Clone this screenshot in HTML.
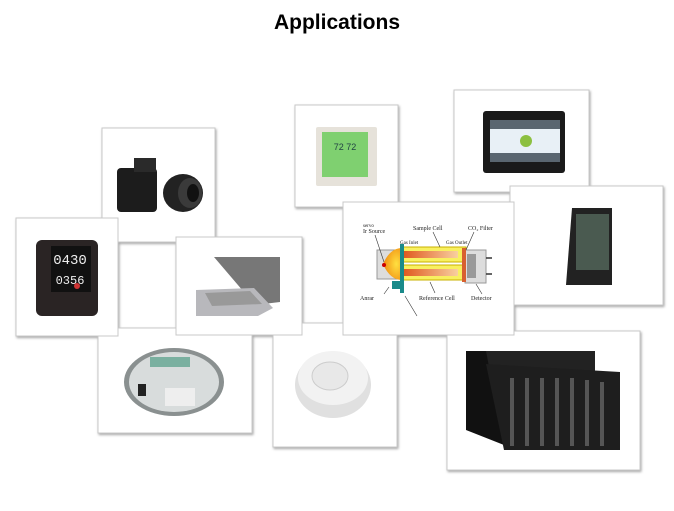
<!DOCTYPE html>
<html><head><style>
html,body{margin:0;padding:0;background:#fff;}
body{width:674px;height:506px;overflow:hidden;font-family:"Liberation Sans",sans-serif;}
</style></head><body>
<svg width="674" height="506" viewBox="0 0 674 506" xmlns="http://www.w3.org/2000/svg">
<defs>
<filter id="sh" x="-10%" y="-10%" width="125%" height="125%"><feDropShadow dx="1" dy="1.5" stdDeviation="1.2" flood-color="#000" flood-opacity="0.35"/></filter>
<radialGradient id="flame" cx="0.7" cy="0.5" r="0.7"><stop offset="0" stop-color="#ffe040"/><stop offset="1" stop-color="#f08a10"/></radialGradient>
<linearGradient id="tube" x1="0" x2="1"><stop offset="0" stop-color="#e05a20"/><stop offset="1" stop-color="#f8d0a0"/></linearGradient>
</defs>
<text x="337" y="29" text-anchor="middle" font-size="21" font-weight="bold" fill="#000">Applications</text>
<g filter="url(#sh)" fill="#fff" stroke="#c8c8c8" stroke-width="1">
<rect x="98" y="328" width="154" height="105"/>
<rect x="102" y="128" width="113" height="114"/>
<rect x="16" y="218" width="102" height="118"/>
<rect x="273" y="323" width="124" height="124"/>
<rect x="176" y="237" width="126" height="98"/>
<rect x="295" y="105" width="103" height="102"/>
<rect x="454" y="90" width="135" height="102"/>
<rect x="510" y="186" width="153" height="119"/>
<rect x="447" y="331" width="193" height="139"/>
<rect x="343" y="202" width="171" height="133"/>
</g>
<!-- meter -->
<ellipse cx="174" cy="382" rx="50" ry="34" fill="#8a9090"/>
<ellipse cx="174" cy="382" rx="45" ry="30" fill="#d8dcdc"/>
<rect x="150" y="357" width="40" height="10" fill="#7ab0a0"/>
<rect x="138" y="384" width="8" height="12" fill="#222"/>
<rect x="165" y="388" width="30" height="18" fill="#eee"/>
<!-- camera -->
<rect x="117" y="168" width="40" height="44" rx="4" fill="#1c1c1c"/>
<rect x="134" y="158" width="22" height="14" fill="#2a2a2a"/>
<ellipse cx="183" cy="193" rx="20" ry="19" fill="#222"/>
<ellipse cx="190" cy="193" rx="12" ry="15" fill="#3a3a3a"/>
<ellipse cx="193" cy="193" rx="6" ry="9" fill="#111"/>
<!-- watch -->
<rect x="36" y="240" width="62" height="76" rx="6" fill="#2a2424"/>
<rect x="51" y="246" width="40" height="46" fill="#111"/>
<text x="70" y="264" text-anchor="middle" font-size="14" fill="#eee" font-family="Liberation Mono">0430</text>
<text x="70" y="284" text-anchor="middle" font-size="12" fill="#eee" font-family="Liberation Mono">0356</text>
<circle cx="77" cy="286" r="3" fill="#c33"/>
<!-- laptop -->
<polygon points="214,257 280,257 280,302 255,305" fill="#777"/>
<polygon points="196,290 254,288 273,308 258,316 196,316" fill="#b8b8bc"/>
<polygon points="205,293 250,291 262,304 212,306" fill="#999"/>
<!-- smoke detector -->
<ellipse cx="333" cy="385" rx="38" ry="33" fill="#e0e0e0"/>
<ellipse cx="333" cy="378" rx="35" ry="27" fill="#f2f2f2"/>
<ellipse cx="330" cy="376" rx="18" ry="14" fill="#e8e8e8" stroke="#ccc"/>
<!-- thermostat -->
<rect x="316" y="127" width="61" height="59" rx="2" fill="#e6e2da"/>
<rect x="322" y="132" width="46" height="45" fill="#7fd070"/>
<text x="345" y="150" text-anchor="middle" font-size="9" fill="#244">72 72</text>
<!-- tablet -->
<rect x="483" y="111" width="82" height="62" rx="3" fill="#1a1a1a"/>
<rect x="490" y="120" width="70" height="42" fill="#5a6670"/>
<rect x="490" y="129" width="70" height="24" fill="#e8f0f6"/>
<circle cx="526" cy="141" r="6" fill="#8cc040"/>
<!-- phone -->
<polygon points="572,208 612,208 612,285 566,285" fill="#222"/>
<rect x="576" y="214" width="33" height="56" fill="#4a5a50"/>
<!-- diagram -->
<rect x="377" y="250" width="21" height="29" fill="#ddd" stroke="#999"/>
<path d="M383,264 Q390,248 402,248 L402,280 Q390,280 383,264Z" fill="url(#flame)"/>
<circle cx="384" cy="265" r="2" fill="#c00"/>
<rect x="402" y="247" width="64" height="15" fill="#f8f060" stroke="#c8b000"/>
<rect x="404" y="251" width="54" height="7" fill="url(#tube)"/>
<rect x="402" y="265" width="64" height="15" fill="#f8f060" stroke="#c8b000"/>
<rect x="404" y="269" width="54" height="7" fill="url(#tube)"/>
<rect x="465" y="250" width="21" height="33" fill="#ddd" stroke="#999"/>
<rect x="467" y="254" width="9" height="24" fill="#999"/>
<rect x="462" y="248" width="4" height="34" fill="#d86030"/>
<line x1="486" y1="258" x2="492" y2="258" stroke="#333" stroke-width="1.5"/>
<line x1="486" y1="274" x2="492" y2="274" stroke="#333" stroke-width="1.5"/>
<rect x="400" y="244" width="4" height="49" fill="#1a8a8a"/>
<rect x="392" y="281" width="9" height="8" fill="#1a8a8a"/>
<g font-family="Liberation Serif" font-size="5" fill="#222">
<text x="363" y="227">servo</text>
<text x="363" y="233" font-size="6">Ir Source</text>
<text x="413" y="230" font-size="6">Sample Cell</text>
<text x="468" y="230" font-size="6">CO₂ Filter</text>
<text x="400" y="244">Gas Inlet</text>
<text x="446" y="244">Gas Outlet</text>
<text x="360" y="300" font-size="6">Anrar</text>
<text x="419" y="300" font-size="6">Reference Cell</text>
<text x="471" y="300" font-size="6">Detector</text>
</g>
<g stroke="#333" stroke-width="0.6">
<line x1="375" y1="235" x2="384" y2="262"/><line x1="433" y1="232" x2="440" y2="247"/>
<line x1="474" y1="232" x2="466" y2="250"/><line x1="384" y1="294" x2="389" y2="287"/>
<line x1="435" y1="293" x2="430" y2="282"/><line x1="482" y1="294" x2="476" y2="284"/>
<line x1="417" y1="316" x2="405" y2="296"/>
</g>
<!-- server -->
<polygon points="466,351 595,351 595,372 466,380" fill="#222"/>
<polygon points="466,351 486,351 504,445 466,430" fill="#111"/>
<polygon points="486,364 620,372 620,450 504,450" fill="#1e1e1e"/>
<g fill="#555">
<rect x="510" y="378" width="4" height="68"/><rect x="525" y="378" width="4" height="68"/>
<rect x="540" y="378" width="4" height="68"/><rect x="555" y="378" width="4" height="68"/>
<rect x="570" y="378" width="4" height="68"/><rect x="585" y="380" width="4" height="66"/>
<rect x="600" y="382" width="4" height="64"/>
</g>
</svg>
</body></html>
